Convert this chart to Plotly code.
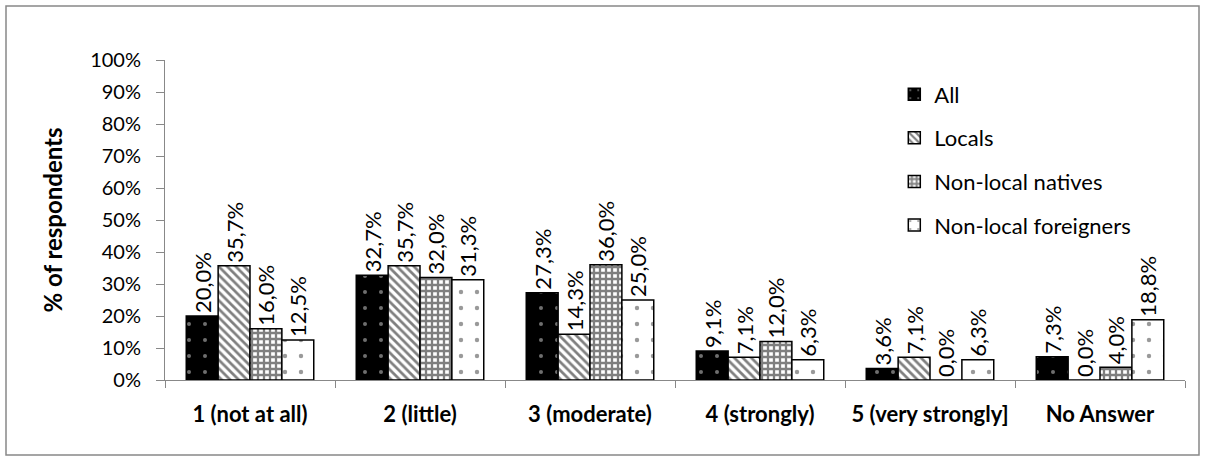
import plotly.graph_objects as go

categories = ["1 (not at all)", "2 (little)", "3 (moderate)", "4 (strongly)",
              "5 (very strongly]", "No Answer"]
all_resp = [20.0, 32.7, 27.3, 9.1, 3.6, 7.3]
locals_resp = [35.7, 35.7, 14.3, 7.1, 7.1, 0.0]
nonlocal_natives = [16.0, 32.0, 36.0, 12.0, 0.0, 4.0]
nonlocal_foreigners = [12.5, 31.3, 25.0, 6.3, 6.3, 18.8]

series = [
    ("All", all_resp, dict(shape=".", bgcolor="black", fgcolor="#dddddd", size=16, solidity=0.05)),
    ("Locals", locals_resp, dict(shape="\\", bgcolor="white", fgcolor="black", size=6, solidity=0.45)),
    ("Non-local natives", nonlocal_natives, dict(shape="+", bgcolor="white", fgcolor="black", size=6, solidity=0.62)),
    ("Non-local foreigners", nonlocal_foreigners, dict(shape=".", bgcolor="white", fgcolor="#333333", size=16, solidity=0.06)),
]

FONT = "Lato, 'Open Sans', sans-serif"

fig = go.Figure()
for i, (name, vals, pat) in enumerate(series):
    fig.add_trace(go.Bar(
        name=name,
        x=categories,
        y=[v / 100 for v in vals],
        text=[f"{v:.1f}%".replace(".", ",") for v in vals],
        textposition="outside",
        textangle=-90,
        constraintext="none",
        cliponaxis=False,
        textfont=dict(size=22, color="black", family=FONT),
        marker=dict(color=pat["bgcolor"], pattern=pat,
                    line=dict(color="black", width=1.5)),
        legendgroup=f"g{i}",
    ))

fig.update_layout(
    width=1205, height=461,
    margin=dict(l=165, r=20, t=60, b=81),
    paper_bgcolor="white", plot_bgcolor="white",
    barmode="group", bargap=0.25, bargroupgap=0,
    font=dict(family=FONT, size=20, color="black"),
    showlegend=True,
    legend=dict(x=0.715, y=0.958, xanchor="left", yanchor="top",
                traceorder="grouped", tracegroupgap=12,
                font=dict(size=22), itemwidth=30, bgcolor="rgba(0,0,0,0)"),
    uniformtext=dict(mode=False),
)

fig.update_yaxes(
    range=[0, 1], tickformat=".0%", dtick=0.1,
    ticks="outside", ticklen=8, tickcolor="#888",
    ticklabelstandoff=11,
    showline=True, linecolor="#888", linewidth=1,
    showgrid=False, zeroline=False,
    title=dict(text="<b>% of respondents</b>", font=dict(size=24), standoff=20),
    tickfont=dict(size=20),
)
fig.update_xaxes(
    ticks="outside", tickson="boundaries", ticklen=7, tickcolor="#888",
    showline=True, linecolor="#888", linewidth=1,
    showgrid=False,
    tickfont=dict(size=22),
    ticklabelstandoff=15,
    tickvals=categories,
    ticktext=[f"<b>{c}</b>" for c in categories],
)

# frame around the whole chart
fig.add_shape(type="rect", xref="paper", yref="paper",
              x0=(6 - 165) / 1020, x1=(1199 - 165) / 1020,
              y0=(380 - 455) / 320, y1=(380 - 6) / 320,
              line=dict(color="#888", width=1.5), fillcolor="rgba(0,0,0,0)",
              layer="below")

fig.write_html("out.html")
